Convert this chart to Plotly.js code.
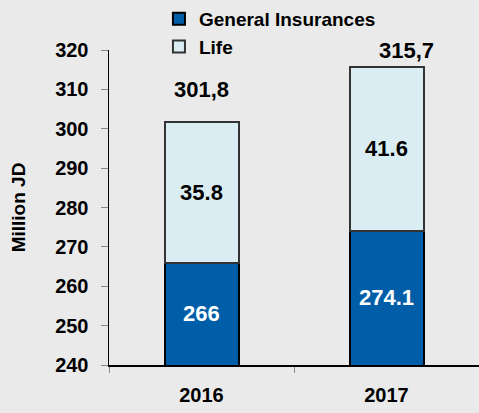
<!DOCTYPE html>
<html>
<head>
<meta charset="utf-8">
<script src="https://cdn.plot.ly/plotly-3.0.1.min.js"></script>
<style>html,body{margin:0;padding:0;background:#eaeaea;}</style>
</head>
<body>
<div id="chart" style="width:479px;height:413px;"></div>
<script>
const years = ['2016', '2017'];
const general = [266, 274.1];
const life = [35.8, 41.6];
const generalLabels = ['266', '274.1'];
const lifeLabels = ['35.8', '41.6'];
const totals = [301.8, 315.7];
const totalLabels = ['301,8', '315,7'];

const FONT = 'Arial, "Liberation Sans", sans-serif';
const Y_RANGE = [240, 320];

const traces = [
  {
    type: 'bar', name: 'General Insurances', x: years, y: general,
    textposition: 'none',
    marker: {color: '#005ea8', line: {color: '#000000', width: 2}},
    width: 0.4, hoverinfo: 'skip'
  },
  {
    type: 'bar', name: 'Life', x: years, y: life,
    text: lifeLabels, textposition: 'inside', insidetextanchor: 'middle',
    constraintext: 'none',
    textfont: {family: FONT, size: 22, color: '#000000', weight: 'bold'},
    marker: {color: '#daedf3', line: {color: '#333333', width: 2}},
    width: 0.4, hoverinfo: 'skip'
  }
];

const shifts = [{x: 0, y: 18}, {x: 20, y: 2}];
const annotations = years.map((yr, i) => ({
  x: i, y: totals[i], xref: 'x', yref: 'y',
  text: totalLabels[i], showarrow: false, yanchor: 'bottom',
  xshift: shifts[i].x, yshift: shifts[i].y,
  font: {family: FONT, size: 22, color: '#000000', weight: 'bold'}
})).concat(years.map((yr, i) => ({
  // label centred in the visible part of the General Insurances segment
  x: i, y: (Y_RANGE[0] + general[i]) / 2, xref: 'x', yref: 'y',
  text: generalLabels[i], showarrow: false, yanchor: 'middle',
  font: {family: FONT, size: 22, color: '#ffffff', weight: 'bold'}
})));

const layout = {
  width: 479, height: 413,
  margin: {l: 109, r: 0, t: 48, b: 48},
  paper_bgcolor: '#eaeaea', plot_bgcolor: '#eaeaea',
  barmode: 'stack',
  showlegend: true,
  legend: {
    x: 0.135, y: 1.16, xanchor: 'left', yanchor: 'top',
    traceorder: 'normal', bgcolor: 'rgba(0,0,0,0)',
    font: {family: FONT, size: 19, color: '#000000', weight: 'bold'},
    itemwidth: 30, tracegroupgap: 0
  },
  xaxis: {
    type: 'category', range: [-0.5, 1.5], autorange: false,
    showgrid: false, zeroline: false,
    showline: true, linecolor: '#000000', linewidth: 1.5,
    ticks: 'outside', tickson: 'boundaries', ticklen: 6, tickcolor: '#888888', tickwidth: 1,
    ticklabelstandoff: 11,
    tickfont: {family: FONT, size: 20, color: '#000000', weight: 'bold'}
  },
  yaxis: {
    range: Y_RANGE, dtick: 10, showgrid: false, zeroline: false,
    showline: true, linecolor: '#000000', linewidth: 1.5,
    ticks: 'outside', ticklen: 7, tickcolor: '#888888', tickwidth: 1,
    ticklabelstandoff: 8,
    tickfont: {family: FONT, size: 20, color: '#000000', weight: 'bold'},
    title: {text: 'Million JD', standoff: 24,
      font: {family: FONT, size: 19, color: '#000000', weight: 'bold'}}
  },
  annotations: annotations
};

Plotly.newPlot('chart', traces, layout, {displayModeBar: false, staticPlot: true});
</script>
</body>
</html>
